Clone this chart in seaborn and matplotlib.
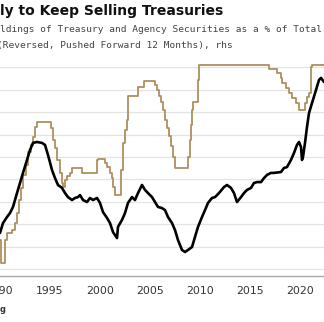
import numpy as np
import pandas as pd
import matplotlib
matplotlib.use("Agg")
import matplotlib.pyplot as plt
import seaborn as sns

# ---- data ----
bank_years = [1990.0, 1990.3, 1990.7, 1991.0, 1991.3, 1991.7, 1992.0, 1992.3, 1992.7, 1993.0,
              1993.3, 1993.7, 1994.2, 1994.5, 1994.8, 1995.2, 1995.5, 1995.8, 1996.2, 1996.5,
              1996.8, 1997.2, 1997.5, 1997.8, 1998.0, 1998.3, 1998.7, 1999.0, 1999.3, 1999.7,
              2000.0, 2000.3, 2000.7, 2001.0, 2001.3, 2001.7, 2001.8, 2002.2, 2002.5, 2002.8,
              2003.2, 2003.5, 2003.8, 2004.2, 2004.5, 2004.8, 2005.2, 2005.5, 2005.8, 2006.2,
              2006.5, 2006.8, 2007.2, 2007.5, 2007.8, 2008.2, 2008.5, 2008.8, 2009.2, 2009.5,
              2009.8, 2010.2, 2010.5, 2010.8, 2011.2, 2011.5, 2011.9, 2012.4, 2012.7, 2013.1,
              2013.4, 2013.7, 2014.1, 2014.4, 2014.7, 2015.1, 2015.4, 2015.7, 2016.1, 2016.4,
              2016.7, 2017.1, 2017.4, 2018.1, 2018.4, 2018.7, 2019.1, 2019.4, 2019.7, 2019.9,
              2020.1, 2020.2, 2020.3, 2020.5, 2020.7, 2020.9, 2021.2, 2021.6, 2021.9, 2022.1,
              2022.4]
bank_share = [11.61, 12.05, 12.32, 12.50, 12.77, 13.39, 13.84, 14.29, 14.87, 15.31,
              15.63, 15.67, 15.63, 15.54, 15.09, 14.42, 14.06, 13.75, 13.62, 13.39,
              13.21, 13.08, 13.17, 13.21, 13.30, 13.08, 12.99, 13.17, 13.08, 13.17,
              12.95, 12.54, 12.28, 12.05, 11.65, 11.38, 11.88, 12.19, 12.50, 12.95,
              13.21, 13.08, 13.39, 13.75, 13.53, 13.39, 13.21, 12.99, 12.77, 12.72,
              12.63, 12.32, 12.05, 11.74, 11.29, 10.85, 10.76, 10.85, 10.98, 11.43,
              11.88, 12.32, 12.63, 12.95, 13.17, 13.21, 13.39, 13.66, 13.75, 13.62,
              13.39, 12.99, 13.21, 13.39, 13.53, 13.62, 13.84, 13.88, 13.88, 14.06,
              14.20, 14.29, 14.29, 14.33, 14.51, 14.55, 14.87, 15.18, 15.54, 15.67,
              15.45, 14.87, 15.00, 15.63, 16.34, 16.96, 17.41, 17.99, 18.44, 18.53,
              18.35]

rate_years = [1990.0, 1990.1, 1990.5, 1990.7, 1991.2, 1991.5, 1991.7, 1991.9, 1992.1, 1992.3,
              1992.6, 1992.8, 1993.1, 1993.3, 1993.5, 1993.7, 1995.1, 1995.3, 1995.5, 1995.7,
              1996.0, 1996.2, 1996.3, 1996.5, 1996.7, 1997.0, 1997.2, 1998.2, 1999.7, 1999.8,
              2000.5, 2000.7, 2001.0, 2001.2, 2001.3, 2001.5, 2002.1, 2002.3, 2002.5, 2002.7,
              2002.8, 2003.8, 2004.4, 2005.5, 2005.7, 2005.9, 2006.1, 2006.3, 2006.5, 2006.7,
              2006.9, 2007.1, 2007.3, 2007.5, 2008.8, 2009.0, 2009.1, 2009.2, 2009.3, 2009.8,
              2009.9, 2016.9, 2017.7, 2018.1, 2018.2, 2018.6, 2018.9, 2019.2, 2019.6, 2019.9,
              2020.5, 2020.7, 2020.9, 2021.1, 2021.2, 2023.0]
rate_rev = [8.75, 9.90, 8.75, 8.40, 8.25, 7.90, 7.40, 6.75, 6.15, 5.50,
            5.00, 4.35, 4.00, 3.60, 3.10, 2.85, 3.15, 3.75, 4.15, 4.75,
            5.40, 5.90, 6.10, 5.75, 5.55, 5.40, 5.15, 5.40, 4.75, 4.70,
            4.90, 5.10, 5.40, 5.65, 6.10, 6.50, 5.25, 3.90, 3.25, 2.75,
            1.55, 1.10, 0.80, 1.00, 1.25, 1.55, 1.85, 2.25, 2.75, 3.15,
            3.55, 4.05, 4.60, 5.15, 4.60, 3.75, 3.00, 2.25, 1.85, 0.75,
            0.00, 0.20, 0.40, 0.65, 0.90, 1.15, 1.40, 1.65, 1.90, 2.25,
            1.90, 1.60, 1.40, 0.10, 0.00, 0.00]

xtick_years = [1990, 1995, 2000, 2005, 2010, 2015, 2020]
grid_values = [10, 11, 12, 13, 14, 15, 16, 17, 18, 19]

title = "ly to Keep Selling Treasuries"
sub1 = "ldings of Treasury and Agency Securities as a % of Total"
sub2 = "(Reversed, Pushed Forward 12 Months), rhs"

bank = pd.DataFrame({"year": bank_years, "share": bank_share})
rate = pd.DataFrame({"year": rate_years, "rate": rate_rev})

# ---- figure ----
sns.set_style("white")
W, H = 324, 322
fig = plt.figure(figsize=(W / 100, H / 100), dpi=100)
ax_bottom_px, ax_top_px = 276, 62
ax = fig.add_axes([0.0, (H - ax_bottom_px) / H, 1.0, (ax_bottom_px - ax_top_px) / H])
ax2 = ax.twinx()

b_lo, b_hi = 9.6875, 19.2411   # black series limits
t_lo, t_hi = 10.55, -0.15      # tan series limits (reversed)

TAN = "#b08f5f"
sns.lineplot(data=rate, x="year", y="rate", ax=ax, color=TAN, linewidth=1.3,
             drawstyle="steps-post", sort=False)
sns.lineplot(data=bank, x="year", y="share", ax=ax2, color="#000000", linewidth=1.9,
             sort=False)

ax.set_xlim(1990.0, 2022.4)
ax.set_ylim(t_lo, t_hi)
ax2.set_ylim(b_lo, b_hi)

# horizontal gridlines at the black-series values, expressed on the bottom axis
grid_pos = [t_lo + (v - b_lo) / (b_hi - b_lo) * (t_hi - t_lo) for v in grid_values]
ax.set_yticks(grid_pos)
ax.grid(axis="y", color="#e3e3e3", linewidth=0.9)
ax.grid(axis="x", visible=False)
ax.tick_params(axis="y", left=False, labelleft=False, right=False, labelright=False)
ax2.tick_params(axis="y", left=False, labelleft=False, right=False, labelright=False)
ax2.set_yticks([])

ax.set_xticks(xtick_years)
ax.set_xticklabels([str(y) for y in xtick_years])
ax.tick_params(axis="x", direction="in", length=3, width=0.8, color="#aaaaaa",
               pad=7, labelsize=7.8, labelcolor="#333333")
ax.set_xlabel("")
ax.set_ylabel("")
ax2.set_ylabel("")
for a in (ax, ax2):
    for s in ("top", "left", "right"):
        a.spines[s].set_visible(False)
    a.spines["bottom"].set_color("#aaaaaa")
    a.spines["bottom"].set_linewidth(0.9)
    leg = a.get_legend()
    if leg:
        leg.remove()

fig.text(0.0, 1 - 15.5 / H, title, fontsize=10, fontweight="bold", color="#111111",
         family="DejaVu Sans", va="baseline", ha="left")
fig.text(0.0, 1 - 32 / H, sub1, fontsize=6.8, color="#444444",
         family="DejaVu Sans Mono", va="baseline", ha="left")
fig.text(-0.01, 1 - 48 / H, sub2, fontsize=6.8, color="#444444",
         family="DejaVu Sans Mono", va="baseline", ha="left")
fig.text(0.0, 1 - 312 / H, "g", fontsize=6, fontweight="bold", color="#333333",
         va="baseline", ha="left")

fig.savefig("out.png", dpi=100)
